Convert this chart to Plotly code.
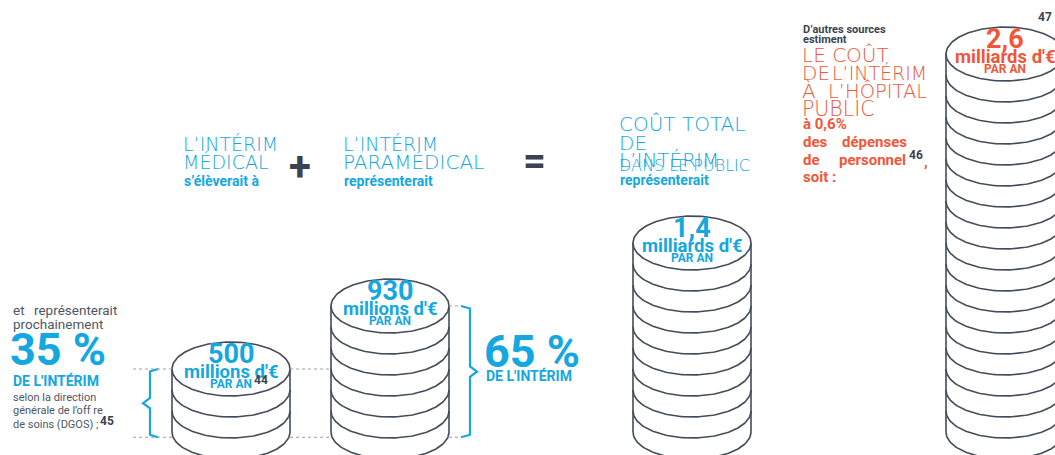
import numpy as np
import plotly.graph_objects as go

# ---------------- data ----------------
stack_labels = ["500", "930", "1,4", "2,6"]
stack_values_meur = [500, 930, 1400, 2600]
stack_units = ["millions d'€", "millions d'€", "milliards d'€", "milliards d'€"]
stack_per = ["PAR AN", "PAR AN", "PAR AN", "PAR AN"]
stack_coins = [3, 6, 9, 18]
stack_notes = ["44", "", "", ""]
share_labels = ["35 %", "65 %"]
share_sub = ["DE L'INTÉRIM", "DE L'INTÉRIM"]

# ---------------- layout constants (pixels) ----------------
W, H = 1055, 455
BASE_PX = 432          # pixel row of the stacks' base
COIN_PX = 21           # thickness of one coin in pixels
STACK_CX = [231, 390, 692, 1005]
RX = 59
RY = 27 / COIN_PX      # ellipse half-height in coin units
LOW = -0.25            # lower guide line (coin units)

BLUE = "#14a7e0"
RED = "#f0573a"
DARK = "#3b4350"
GRAY = "#4f5762"
LINE = "#434c59"

HEAD = "DejaVu Sans"
BOLD = "Roboto"


def yc(py):
    return (BASE_PX - py) / COIN_PX


fig = go.Figure()

# ---------------- coin stacks ----------------
t_full = np.linspace(0, 2 * np.pi, 161)
t_low = np.linspace(np.pi, 2 * np.pi, 81)
for cx, n in zip(STACK_CX, stack_coins):
    xs, ys = [], []
    for k in range(1, n + 1):
        xs += list(cx + RX * np.cos(t_low)) + [None]
        ys += list(n - k + RY * np.sin(t_low)) + [None]
    xs += [cx - RX, cx - RX, None, cx + RX, cx + RX, None]
    ys += [n, 0, None, n, 0, None]
    fig.add_trace(go.Scatter(x=xs, y=ys, mode="lines",
                             line=dict(color=LINE, width=1.6),
                             hoverinfo="skip", showlegend=False))
    fig.add_trace(go.Scatter(x=cx + RX * np.cos(t_full), y=n + RY * np.sin(t_full),
                             mode="lines", fill="toself", fillcolor="white",
                             line=dict(color=LINE, width=1.6),
                             hoverinfo="skip", showlegend=False))

# ---------------- dotted guide lines ----------------
g1, g2 = stack_coins[0], stack_coins[1]
segs = [
    (133, STACK_CX[0] - RX, g1), (STACK_CX[0] + RX, STACK_CX[1] - RX, g1),
    (133, STACK_CX[0] - RX, LOW), (STACK_CX[0] + RX, STACK_CX[1] - RX, LOW),
    (STACK_CX[1] + RX, 461, g2), (STACK_CX[1] + RX, 461, LOW),
]
gx, gy = [], []
for a, b, y in segs:
    gx += [a, b, None]
    gy += [y, y, None]
fig.add_trace(go.Scatter(x=gx, y=gy, mode="lines",
                         line=dict(color="#9aa0a8", width=1, dash="dot"),
                         hoverinfo="skip", showlegend=False))

# ---------------- braces ----------------
def brace(xv, xt, xp, top, bot):
    mid = (top + bot) / 2
    return ([xt, xv, xv, xp, xv, xv, xt],
            [top, top - 0.12, mid + 0.25, mid, mid - 0.25, bot + 0.12, bot])

bx, by = brace(150, 158, 143, g1, LOW)
fig.add_trace(go.Scatter(x=bx, y=by, mode="lines", line=dict(color=BLUE, width=2.2),
                         hoverinfo="skip", showlegend=False))
bx, by = brace(470, 461, 477, g2, LOW)
fig.add_trace(go.Scatter(x=bx, y=by, mode="lines", line=dict(color=BLUE, width=2.2),
                         hoverinfo="skip", showlegend=False))

# ---------------- texts ----------------
ann = []


def T(text, px, py, size, color, family=BOLD, weight="bold", xanchor="left"):
    ann.append(dict(text=text, x=px, y=yc(py), xref="x", yref="y",
                    xanchor=xanchor, yanchor="middle", showarrow=False,
                    font=dict(family=family, size=size, color=color, weight=weight)))


# stack labels
for i, (cx, n) in enumerate(zip(STACK_CX, stack_coins)):
    col = RED if i == 3 else BLUE
    top_px = BASE_PX - n * COIN_PX
    T(stack_labels[i], cx, top_px - 15, 27, col, xanchor="center")
    T(stack_units[i], cx, top_px + 3, 18.5, col, xanchor="center")
    T(stack_per[i], cx, top_px + 15, 12, col, xanchor="center")
    if stack_notes[i]:
        T(stack_notes[i], cx + 21, top_px + 11, 12, DARK)
T("47", 1054, 17, 12, DARK, xanchor="right")

# left block
T("et", 11, 310, 13.5, GRAY, weight="normal")
T("représenterait", 119, 310, 13.5, GRAY, weight="normal", xanchor="right")
T("prochainement", 11, 324, 13.5, GRAY, weight="normal")
T(share_labels[0], 8, 349, 45, BLUE)
T(share_sub[0], 11, 380, 14, BLUE)
T("selon la direction", 11, 397, 11, GRAY, weight="normal")
T("générale de l’off re", 11, 410, 11, GRAY, weight="normal")
T("de soins (DGOS) ;", 11, 424, 11, GRAY, weight="normal")
T("45", 98, 421, 12, DARK)

T(share_labels[1], 482, 351, 45, BLUE)
T(share_sub[1], 484, 375, 14, BLUE)

# headings
T("L’INTÉRIM", 181, 144, 19, BLUE, family=HEAD, weight=300)
T("MÉDICAL", 181, 162, 19, BLUE, family=HEAD, weight=300)
T("s’élèverait à", 182, 181, 14, BLUE)
T("+", 300, 166, 40, DARK, xanchor="center")
T("L’INTÉRIM", 341, 144, 19, BLUE, family=HEAD, weight=300)
T("PARAMÉDICAL", 341, 162, 20, BLUE, family=HEAD, weight=300)
T("représenterait", 342, 181, 14, BLUE)
T("=", 534, 160, 40, DARK, xanchor="center")
T("COÛT TOTAL", 617, 124, 20, BLUE, family=HEAD, weight=300)
T("DE", 617, 143, 20, BLUE, family=HEAD, weight=300)
T("L’INTÉRIM", 617, 160, 20, BLUE, family=HEAD, weight=300)
T("DANS LE PUBLIC", 617, 165, 16, BLUE, family=HEAD, weight=300)
T("représenterait", 618, 180, 14, BLUE)

# right block
T("D’autres sources", 801, 29, 11, DARK)
T("estiment", 801, 39, 11, DARK)
T("LE COÛT", 800, 55, 20, RED, family=HEAD, weight=300)
T("DE", 800, 73, 20, RED, family=HEAD, weight=300)
T("L’INTÉRIM", 929, 73, 19, RED, family=HEAD, weight=300, xanchor="right")
T("À", 800, 91, 20, RED, family=HEAD, weight=300)
T("L’HÔPITAL", 929, 91, 19.5, RED, family=HEAD, weight=300, xanchor="right")
T("PUBLIC", 800, 109, 20.5, RED, family=HEAD, weight=300)
T("à 0,6%", 801, 124, 15, RED)
T("des", 801, 142, 15, RED)
T("dépenses", 909, 142, 15, RED, xanchor="right")
T("de", 801, 160, 15, RED)
T("personnel", 908, 160, 15, RED, xanchor="right")
T("46", 907, 155, 12, DARK)
T(",", 922, 162, 15, RED)
T("soit :", 801, 177, 15, RED)

fig.update_layout(
    width=W, height=H,
    margin=dict(l=0, r=0, t=0, b=0),
    paper_bgcolor="white", plot_bgcolor="white",
    xaxis=dict(range=[0, W], visible=False, fixedrange=True),
    yaxis=dict(range=[yc(H), yc(0)], visible=False, fixedrange=True),
    annotations=ann,
    showlegend=False,
)

# remove the default 8px page margin so the figure fills the window exactly
PAGE_JS = ("document.body.style.margin='0';"
           "document.body.style.overflow='hidden';"
           "document.documentElement.style.overflow='hidden';")

fig.write_html("out.html", post_script=PAGE_JS,
               config={"displayModeBar": False, "staticPlot": True})
